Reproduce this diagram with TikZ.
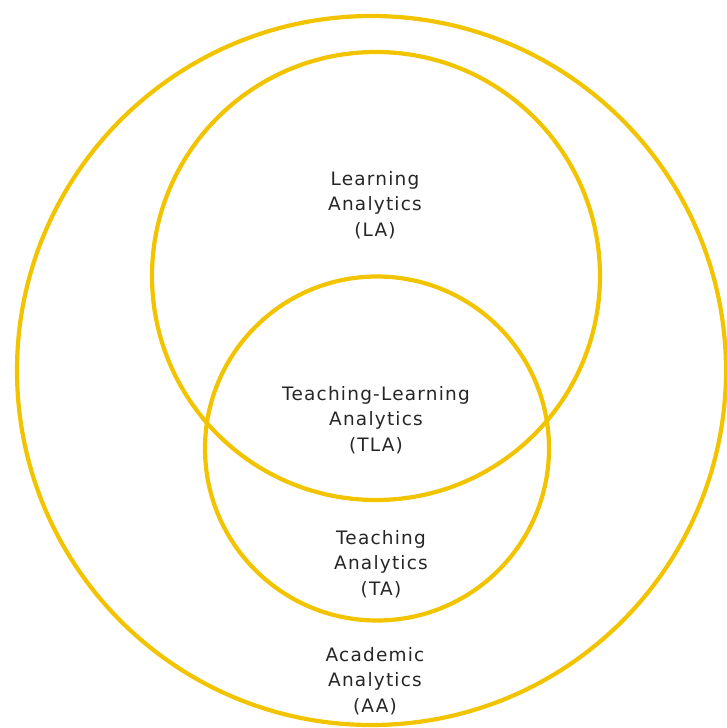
\documentclass[tikz,border=0pt]{standalone}
\usepackage{fontspec}
\setmainfont{DejaVu Sans}[LetterSpace=6.5]
\usepackage{tikz}

\definecolor{ringgold}{RGB}{242,196,0}
\tikzset{
    ring/.style={ringgold,line width=4.2pt},
    lbl/.style={align=center,text=black!85,font=\fontsize{18.5}{25.5}\selectfont,inner sep=0pt}
}

\begin{document}
\begin{tikzpicture}[x=1pt,y=-1pt]
    \useasboundingbox (0,0) rectangle (727,728);
    %circles
    \draw[ring] (371.5,370.5) circle (354.5);
    \draw[ring] (376,276) circle (224);
    \draw[ring] (377,448.5) circle (172);

    %labels
    \node[lbl] (la) at (375,205) {Learning\\Analytics\\(LA)};
    \node[lbl] (tla) at (376,420) {Teaching-Learning\\Analytics\\(TLA)};
    \node[lbl] (ta) at (381,564) {Teaching\\Analytics\\(TA)};
    \node[lbl] (aa) at (375,681) {Academic\\Analytics\\(AA)};
\end{tikzpicture}
\end{document}
